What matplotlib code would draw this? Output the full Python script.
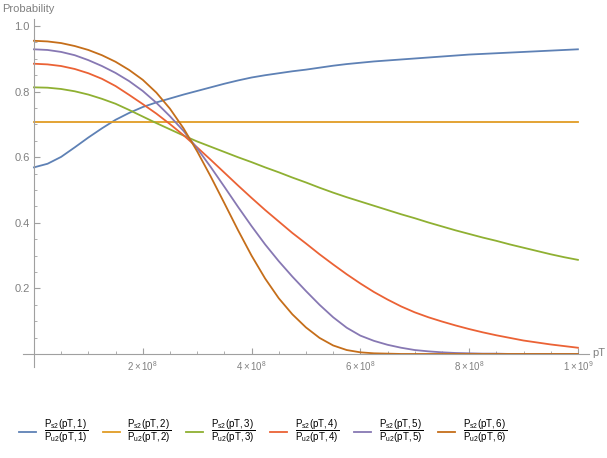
import numpy as np
import matplotlib
matplotlib.use('Agg')
import matplotlib.pyplot as plt
from matplotlib.ticker import MultipleLocator

plt.rcParams['font.family'] = ['Liberation Sans', 'DejaVu Sans']
plt.rcParams['mathtext.fontset'] = 'custom'
plt.rcParams['mathtext.rm'] = 'Liberation Sans'
plt.rcParams['mathtext.it'] = 'Liberation Sans'

# pT values (units of 1e8)
pT = [0, 0.25, 0.5, 0.75, 1, 1.25, 1.5, 1.75, 2, 2.25, 2.5, 2.75, 3, 3.25, 3.5, 3.75,
      4, 4.25, 4.5, 4.75, 5, 5.25, 5.5, 5.75, 6, 6.25, 6.5, 6.75, 7, 7.25, 7.5, 7.75,
      8, 8.25, 8.5, 8.75, 9, 9.25, 9.5, 9.75, 10]

# ratio Ps2/Pu2 for n = 1..6
r1 = [0.569, 0.580, 0.601, 0.630, 0.660, 0.688, 0.714, 0.735, 0.753, 0.767, 0.779,
      0.791, 0.802, 0.813, 0.824, 0.834, 0.843, 0.850, 0.856, 0.862, 0.867, 0.873,
      0.879, 0.884, 0.888, 0.892, 0.895, 0.898, 0.901, 0.904, 0.907, 0.910, 0.913,
      0.915, 0.917, 0.919, 0.921, 0.923, 0.925, 0.927, 0.929]
r2 = [0.707] * 41
r3 = [0.813, 0.812, 0.808, 0.801, 0.791, 0.778, 0.763, 0.744, 0.724, 0.704, 0.685,
      0.666, 0.648, 0.632, 0.616, 0.600, 0.585, 0.569, 0.554, 0.538, 0.523, 0.507,
      0.492, 0.478, 0.465, 0.452, 0.439, 0.426, 0.414, 0.401, 0.389, 0.377, 0.366,
      0.355, 0.345, 0.334, 0.324, 0.314, 0.304, 0.295, 0.287]
r4 = [0.885, 0.883, 0.878, 0.869, 0.856, 0.839, 0.817, 0.790, 0.762, 0.733, 0.701,
      0.667, 0.630, 0.592, 0.553, 0.514, 0.476, 0.439, 0.404, 0.369, 0.337, 0.304,
      0.273, 0.243, 0.215, 0.189, 0.166, 0.145, 0.127, 0.112, 0.099, 0.087, 0.076,
      0.066, 0.057, 0.049, 0.041, 0.035, 0.029, 0.024, 0.019]
r5 = [0.929, 0.927, 0.921, 0.911, 0.896, 0.878, 0.857, 0.832, 0.802, 0.766, 0.725,
      0.680, 0.627, 0.570, 0.510, 0.449, 0.390, 0.334, 0.283, 0.236, 0.192, 0.150,
      0.112, 0.080, 0.056, 0.040, 0.028, 0.019, 0.012, 0.008, 0.005, 0.003, 0.002,
      0.001, 0.001, 0.0, 0.0, 0.0, 0.0, 0.0, 0.0]
r6 = [0.955, 0.953, 0.948, 0.939, 0.927, 0.911, 0.891, 0.866, 0.836, 0.797, 0.748,
      0.688, 0.618, 0.541, 0.460, 0.378, 0.300, 0.230, 0.170, 0.121, 0.081, 0.049,
      0.026, 0.012, 0.005, 0.002, 0.001, 0.0, 0.0, 0.0, 0.0, 0.0, 0.0,
      0.0, 0.0, 0.0, 0.0, 0.0, 0.0, 0.0, 0.0]

series = [r1, r2, r3, r4, r5, r6]
colors = ['#5E81B5', '#E19C24', '#8FB032', '#EB6235', '#8778B3', '#C56E1A']
labels = [r'$\dfrac{P_{\mathrm{s2}}(\mathrm{pT},%d)}{P_{\mathrm{u2}}(\mathrm{pT},%d)}$' % (n, n)
          for n in range(1, 7)]

xticks = [2e8, 4e8, 6e8, 8e8, 1e9]
xticklabels = [r'$2\times10^{8}$', r'$4\times10^{8}$', r'$6\times10^{8}$',
               r'$8\times10^{8}$', r'$1\times10^{9}$']
yticks = [0.2, 0.4, 0.6, 0.8, 1.0]
yticklabels = ['0.2', '0.4', '0.6', '0.8', '1.0']

fig = plt.figure(figsize=(6.07, 4.58), dpi=100)
ax = fig.add_axes([0.038, 0.1985, 0.932, 0.759])

x = np.array(pT) * 1e8
for ys, c, lab in zip(series, colors, labels):
    ax.plot(x, ys, color=c, lw=1.3, label=lab, solid_joinstyle='round')

ax.set_xlim(-0.2e8, 1.02e9)
ax.set_ylim(-0.04, 1.02)

axis_col = '#a0a0a0'
ax.spines['left'].set_position(('data', 0))
ax.spines['bottom'].set_position(('data', 0))
ax.spines['top'].set_visible(False)
ax.spines['right'].set_visible(False)
ax.spines['left'].set_color(axis_col)
ax.spines['bottom'].set_color(axis_col)

ax.set_xticks(xticks)
ax.set_xticklabels(xticklabels)
ax.set_yticks(yticks)
ax.set_yticklabels(yticklabels)
ax.xaxis.set_minor_locator(MultipleLocator(0.5e8))
ax.yaxis.set_minor_locator(MultipleLocator(0.05))
ax.tick_params(which='both', direction='in', colors=axis_col, labelcolor='#808080',
               labelsize=7)
ax.tick_params(which='major', length=4, width=0.8)
ax.tick_params(which='minor', length=2.5, width=0.6)
ax.tick_params(axis='y', labelsize=8, pad=3)
ax.tick_params(axis='x', pad=4)

fig.text(2 / 607, 1 - 9 / 458, 'Probability', color='#808080', fontsize=8, va='center')
fig.text(592 / 607, 1 - 353 / 458, 'pT', color='#808080', fontsize=8, va='center')

fig.legend(loc='center', bbox_to_anchor=(0.433, 1 - 431.7 / 458), ncol=6,
           frameon=False, fontsize=7, handlelength=1.75, handletextpad=0.8,
           columnspacing=1.55)

fig.savefig('out.png', dpi=100)
